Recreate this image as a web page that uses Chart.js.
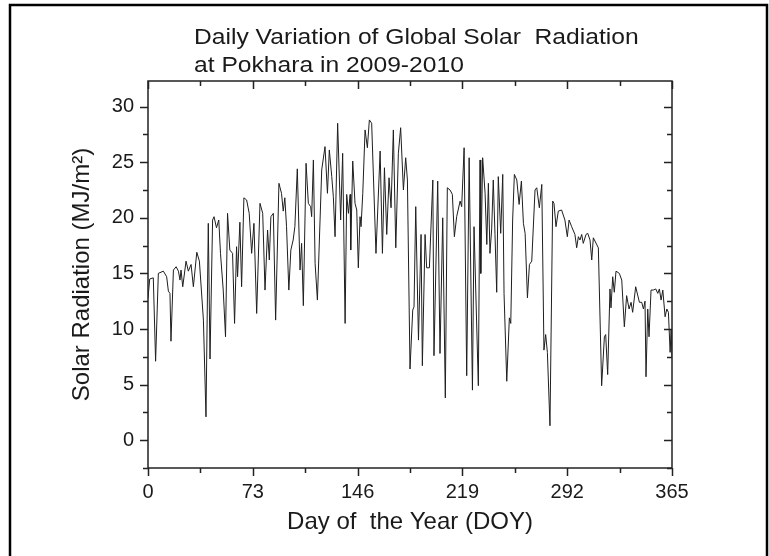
<!DOCTYPE html>
<html>
<head>
<meta charset="utf-8">
<script src="https://cdn.jsdelivr.net/npm/chart.js@4.4.0/dist/chart.umd.min.js"></script>
<style>
html,body{margin:0;padding:0;background:#fff;}
canvas{display:block;}
</style>
</head>
<body>
<canvas id="c" width="769" height="556"></canvas>
<script>
const titleLines = ["Daily Variation of Global Solar  Radiation", "at Pokhara in 2009-2010"];
const xAxisTitle = "Day of  the Year (DOY)";
const yAxisTitle = "Solar Radiation (MJ/m\u00B2)";
const xTickValues = [0, 73, 146, 219, 292, 365];
const yTickValues = [0, 5, 10, 15, 20, 25, 30];

const doy = [
  0, 1.2, 3.7, 5.3, 7.2, 10.7, 13, 14.2, 15.3, 16.0, 17.7, 19.6, 21.2, 22.3, 23.0, 24.2, 26.5, 28.1, 30.0, 31.6,
  34.0, 35.8, 38.6, 40.4, 42.0, 43.2, 45.0, 46.0, 47.7, 49.3, 50.5, 52.4, 54.0, 55.4, 57.0, 58.9, 60.3, 61.7, 62.4, 64.0,
  65.2, 66.8, 68.7, 70.5, 72.2, 73.8, 75.7, 78.0, 79.9, 81.5, 83.3, 84.5, 85.6, 87.3, 88.9, 91.2, 93.0, 94.2, 95.3, 96.5,
  98.1, 99.5, 101.1, 102.3, 104.0, 105.9, 107.0, 108.2, 110.1, 111.7, 113.3, 114.0, 115.2, 116.4, 118.0, 121.0, 123.3, 125.0, 126.3, 128.0,
  129.1, 130.3, 132.1, 134.2, 135.6, 137.3, 138.4, 139.6, 140.8, 141.2, 142.6, 144.2, 145.4, 146.5, 147.7, 148.4, 149.6, 151.2, 152.8, 154.2,
  155.8, 158.8, 161.7, 163.3, 164.7, 166.3, 167.9, 169.3, 170.9, 172.6, 174.4, 176.0, 177.9, 179.5, 180.7, 182.5, 184.4, 185.3, 186.5, 188.4,
  190.2, 191.1, 193.0, 194.1, 196.0, 198.4, 199.2, 201.8, 203.4, 205.3, 207.1, 208.5, 210.4, 212.0, 213.4, 215.0, 217.4, 218.5, 220.2, 222.0,
  223.7, 226.0, 227.1, 230.1, 231.3, 231.8, 233.1, 234.8, 236.0, 237.1, 238.2, 239.4, 240.5, 241.7, 242.9, 244.0, 245.7, 247.1, 248.0, 249.9,
  251.7, 252.7, 254.0, 255.2, 256.9, 258.5, 260.1, 261.5, 262.7, 264.3, 265.7, 267.3, 269.6, 270.8, 272.6, 274.3, 275.8, 277.0, 278.2, 280.0,
  281.9, 282.8, 284.2, 285.8, 288.1, 290.4, 292.1, 293.3, 295.1, 297.4, 298.6, 299.8, 300.9, 302.1, 303.2, 305.1, 306.3, 307.9, 309.1, 310.2,
  313.7, 316.0, 317.9, 318.8, 320.2, 321.8, 322.5, 323.7, 324.8, 326.0, 328.3, 330.0, 331.8, 333.4, 335.1, 336.5, 337.6, 339.7, 342.3, 343.9,
  345.1, 346.2, 346.9, 348.1, 349.0, 350.4, 352.0, 353.7, 355.1, 356.2, 357.4, 358.6, 360.2, 361.4, 362.5, 363.7, 364.4, 365
];
const radiation = [
  12.8, 14.5, 14.6, 7.1, 15.0, 15.2, 14.7, 13.4, 13.2, 8.9, 15.3, 15.6, 15.2, 14.4, 15.3, 13.8, 16.1, 15.2, 15.8, 13.8,
  16.9, 16.1, 10.8, 2.1, 19.5, 7.3, 19.8, 20.1, 19.1, 19.8, 16.8, 13.5, 9.3, 20.4, 17.1, 16.8, 10.5, 17.4, 14.7, 19.6,
  13.8, 21.8, 21.6, 20.4, 16.8, 19.5, 11.4, 21.3, 20.4, 13.5, 18.9, 16.2, 20.1, 20.4, 10.8, 23.1, 22.2, 20.6, 21.8, 19.2,
  13.5, 17.1, 18.0, 19.2, 24.4, 15.3, 17.7, 12.1, 24.9, 21.3, 21.0, 20.1, 25.2, 15.9, 12.6, 24.3, 26.4, 22.2, 26.1, 23.7,
  21.9, 18.3, 28.5, 19.8, 25.8, 10.5, 22.1, 20.4, 22.1, 17.1, 25.1, 21.3, 20.7, 15.5, 20.1, 19.2, 22.2, 27.9, 26.3, 28.8,
  28.5, 16.8, 26.0, 16.8, 24.5, 18.5, 23.6, 20.9, 27.9, 17.3, 25.8, 28.1, 22.5, 25.4, 23.4, 6.4, 11.7, 12.0, 21.0, 9.0,
  18.5, 6.7, 18.5, 15.5, 15.5, 23.4, 7.6, 23.3, 7.8, 20.0, 3.8, 22.7, 22.5, 22.1, 18.3, 20.1, 21.5, 21.0, 26.3, 5.8,
  25.4, 4.5, 19.2, 4.9, 25.2, 15.0, 25.4, 22.2, 17.6, 23.1, 16.8, 19.0, 23.4, 18.5, 13.3, 23.7, 18.6, 23.9, 13.2, 5.3,
  11.0, 10.5, 19.8, 23.9, 23.4, 21.2, 23.3, 19.5, 18.6, 12.8, 15.8, 16.1, 22.5, 22.7, 20.9, 23.0, 8.1, 9.5, 7.9, 1.3,
  21.5, 21.3, 19.2, 20.6, 20.7, 19.8, 18.3, 19.8, 19.2, 18.5, 17.3, 18.3, 18.0, 18.5, 17.7, 18.5, 18.6, 18.0, 16.2, 18.2,
  17.3, 4.9, 9.3, 9.5, 5.9, 13.6, 11.9, 14.7, 13.3, 15.2, 15.0, 14.4, 10.2, 13.0, 11.8, 12.4, 11.5, 13.8, 12.4, 12.4,
  11.8, 12.5, 5.7, 11.8, 9.3, 13.5, 13.5, 13.6, 13.2, 13.6, 12.6, 13.5, 11.1, 11.8, 11.5, 7.9, 10.0, 7.5
];

const FONT = "'Liberation Sans', Arial, sans-serif";
const INK = '#1a1a1a';

// axis decorations (box, inward/outward ticks, outer frame, two-line title)
const decorations = {
  id: 'decorations',
  afterDraw(chart) {
    const {ctx, chartArea: {left, right, top, bottom}, scales: {x, y}} = chart;
    ctx.save();
    ctx.strokeStyle = '#222';
    ctx.lineWidth = 1.5;
    ctx.strokeRect(left, top, right - left, bottom - top);
    ctx.beginPath();
    for (let i = 0; i <= 10; i++) {
      const v = i * 36.5;
      const px = Math.round(x.getPixelForValue(v)) + 0.5;
      const len = i % 2 === 0 ? 8 : 5;
      ctx.moveTo(px, bottom); ctx.lineTo(px, bottom + len);
      ctx.moveTo(px, top); ctx.lineTo(px, top + len);
    }
    for (let i = -1; i <= 12; i++) {
      const v = i * 2.5;
      const py = Math.round(y.getPixelForValue(v)) + 0.5;
      const len = i % 2 === 0 ? 8 : 5;
      ctx.moveTo(left - len, py); ctx.lineTo(left, py);
      ctx.moveTo(right, py); ctx.lineTo(right - len, py);
    }
    ctx.stroke();
    // outer figure frame
    ctx.strokeStyle = '#000';
    ctx.lineWidth = 2.5;
    ctx.beginPath();
    ctx.moveTo(10, 556); ctx.lineTo(10, 5); ctx.lineTo(767, 5); ctx.lineTo(767, 556);
    ctx.stroke();
    // title
    ctx.fillStyle = INK;
    ctx.font = "22px " + FONT;
    ctx.textBaseline = 'alphabetic';
    ctx.textAlign = 'left';
    titleLines.forEach((t, i) => {
      ctx.save();
      ctx.translate(194, 44 + i * 28);
      ctx.scale(1.12, 1);
      ctx.fillText(t, 0, 0);
      ctx.restore();
    });
    ctx.restore();
  }
};

new Chart(document.getElementById('c'), {
  type: 'line',
  data: {
    datasets: [{
      data: doy.map((d, i) => ({x: d, y: radiation[i]})),
      borderColor: '#1e1e1e',
      borderWidth: 1,
      pointRadius: 0,
      tension: 0,
      fill: false
    }]
  },
  options: {
    responsive: false,
    animation: false,
    devicePixelRatio: 1,
    layout: {padding: {top: 81, right: 97, left: 0, bottom: 0}},
    plugins: {legend: {display: false}, tooltip: {enabled: false}, title: {display: false}},
    scales: {
      x: {
        type: 'linear', min: 0, max: 365,
        afterBuildTicks: s => { s.ticks = xTickValues.map(v => ({value: v})); },
        afterFit: s => { s.height = 88; },
        grid: {drawOnChartArea: false, drawTicks: false},
        border: {display: false},
        ticks: {font: {family: FONT, size: 20}, color: INK, padding: 12, maxRotation: 0, autoSkip: false},
        title: {display: true, text: xAxisTitle, color: INK, font: {family: FONT, size: 24}, padding: {top: 0, bottom: 19}}
      },
      y: {
        type: 'linear', min: -2.5, max: 32.3,
        afterBuildTicks: s => { s.ticks = yTickValues.map(v => ({value: v})); },
        afterFit: s => { s.width = 148; },
        grid: {drawOnChartArea: false, drawTicks: false},
        border: {display: false},
        ticks: {font: {family: FONT, size: 20}, color: INK, padding: 14},
        title: {display: true, text: yAxisTitle, color: INK, font: {family: FONT, size: 24}, padding: {top: 68, bottom: 0}}
      }
    }
  },
  plugins: [decorations]
});
</script>
</body>
</html>
